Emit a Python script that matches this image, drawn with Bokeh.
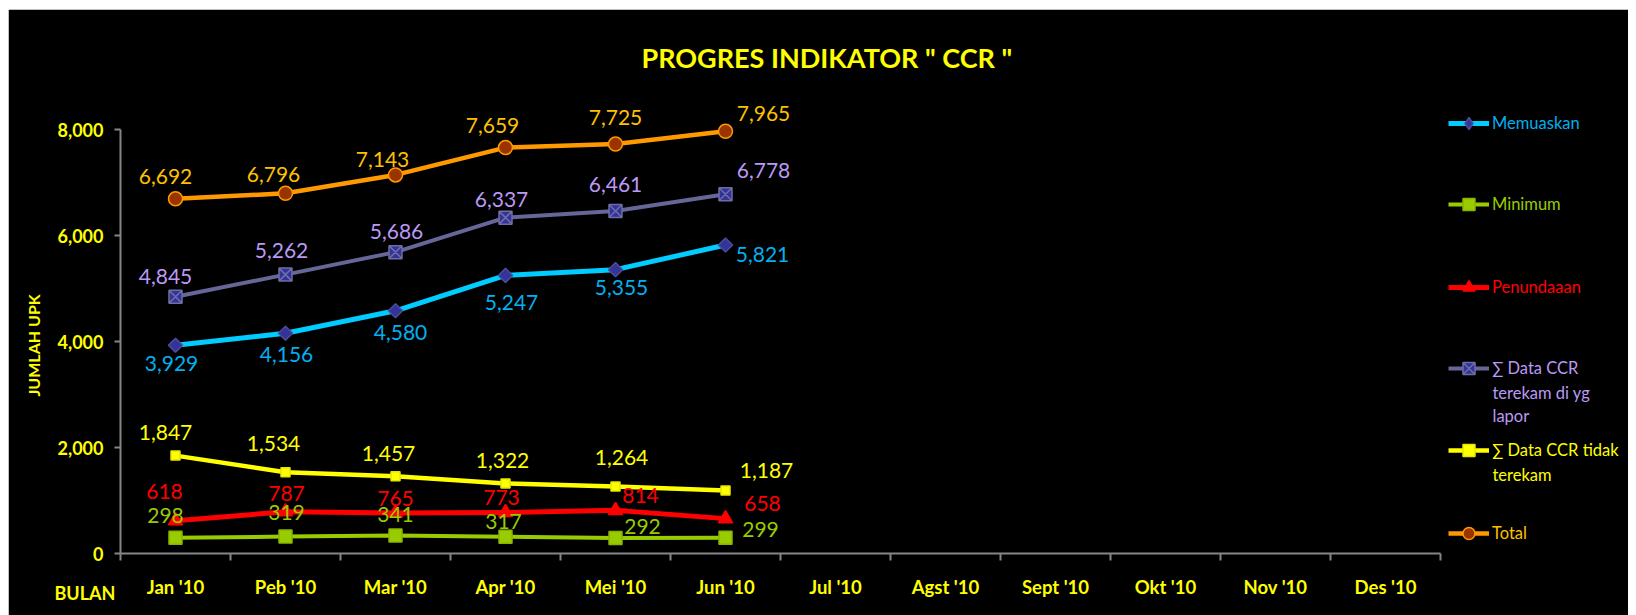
from bokeh.plotting import figure
from bokeh.models import (Range1d, FixedTicker, NumeralTickFormatter, LabelSet, Label,
                          Legend, LegendItem, ColumnDataSource, Title)
from bokeh.core.properties import value
from bokeh.embed import file_html
from bokeh.resources import INLINE

# ---------------- data ----------------
months = ["Jan '10", "Peb '10", "Mar '10", "Apr '10", "Mei '10", "Jun '10",
          "Jul '10", "Agst '10", "Sept '10", "Okt '10", "Nov '10", "Des '10"]
data_months = months[:6]
memuaskan = [3929, 4156, 4580, 5247, 5355, 5821]
minimum = [298, 319, 341, 317, 292, 299]
penundaaan = [618, 787, 765, 773, 814, 658]
terekam = [4845, 5262, 5686, 6337, 6461, 6778]
tidak_terekam = [1847, 1534, 1457, 1322, 1264, 1187]
total = [6692, 6796, 7143, 7659, 7725, 7965]
y_ticks = [0, 2000, 4000, 6000, 8000]

title_text = 'PROGRES INDIKATOR " CCR "'
y_title = "JUMLAH UPK"
x_title = "BULAN"

# ---------------- label offsets (screen px, +down) ----------------
off_memuaskan = [(-4, 18), (1, 21), (5, 22), (6, 27), (6, 18), (37, 10)]
off_minimum = [(-10, -22), (1, -24), (0, -21), (-2, -15), (27, -12), (35, -8)]
off_penundaaan = [(-11, -29), (1, -18), (0, -14), (-4, -15), (25, -15), (37, -15)]
off_terekam = [(-10, -20), (-4, -24), (1, -21), (-4, -18), (0, -27), (38, -24)]
off_tidak = [(-10, -23), (-12, -29), (-7, -23), (-3, -23), (6, -29), (41, -20)]
off_total = [(-10, -22), (-12, -19), (-13, -15), (-13, -22), (0, -27), (38, -18)]

FONT = "Lato"
AXIS_GRAY = "#868686"

n_cat = len(months)
PX_PER_X = 110.0
FRAME_W = 1508
FRAME_H = 452
PX_PER_Y = 424.0 / 8000.0
x_end = FRAME_W / PX_PER_X
y_end = FRAME_H / PX_PER_Y

p = figure(width=1620, height=606, output_backend="svg", toolbar_location=None,
           x_range=Range1d(0, x_end), y_range=Range1d(0, y_end),
           min_border_left=112, min_border_right=0, min_border_top=92, min_border_bottom=62,
           background_fill_color="black", border_fill_color="black")
p.margin = (9, 8, 0, 8)
p.outline_line_color = "black"
p.outline_line_width = 3
p.xgrid.visible = False
p.ygrid.visible = False

# title
p.title.text = title_text
p.title.align = "left"
p.title.offset = 521
p.title.standoff = 56
p.title.text_font = FONT
p.title.text_font_style = "bold"
p.title.text_font_size = "27px"
p.title.text_color = "#FFFF00"

# x axis
centers = [i + 0.5 for i in range(n_cat)]
bounds = [float(i) for i in range(n_cat + 1)]
xa = p.xaxis[0]
xa.ticker = FixedTicker(ticks=centers, minor_ticks=bounds)
xa.major_label_overrides = {c: m for c, m in zip(centers, months)}
xa.bounds = (0, n_cat)
xa.axis_label = None
xa.axis_label_standoff = 0
xa.axis_line_color = AXIS_GRAY
xa.axis_line_width = 2
xa.major_tick_in = 0
xa.major_tick_out = 0
xa.minor_tick_in = 0
xa.minor_tick_out = 7
xa.minor_tick_line_color = AXIS_GRAY
xa.minor_tick_line_width = 2
xa.major_label_standoff = 15
xa.major_label_text_font = FONT
xa.major_label_text_font_style = "bold"
xa.major_label_text_font_size = "18.5px"
xa.major_label_text_color = "#FFFF00"

# x axis title at the left, tucked beside the month labels
p.add_layout(Title(text=x_title + "\n", align="left", offset=-66, standoff=-37, vertical_align="top",
                   text_font=FONT, text_font_style="bold", text_font_size="18px",
                   text_color="#FFFF00"), "below")

# y axis
ya = p.yaxis[0]
ya.ticker = FixedTicker(ticks=y_ticks, minor_ticks=[])
ya.formatter = NumeralTickFormatter(format="0,0")
ya.bounds = (0, y_ticks[-1])
ya.axis_label = None
ya.axis_label_standoff = 0
ya.axis_line_color = AXIS_GRAY
ya.axis_line_width = 2
ya.major_tick_in = 0
ya.major_tick_out = 6
ya.major_tick_line_color = AXIS_GRAY
ya.major_tick_line_width = 2
ya.major_label_standoff = 11
ya.major_label_text_font = FONT
ya.major_label_text_font_style = "bold"
ya.major_label_text_font_size = "18px"
ya.major_label_text_color = "#FFFF00"

# y axis title (rotated) in the left panel
p.add_layout(Title(text=y_title, align="left", offset=157, standoff=22, vertical_align="middle",
                   text_font=FONT, text_font_style="bold", text_font_size="16px",
                   text_color="#FFFF00"), "left")

xs = [months.index(m) + 0.5 for m in data_months]

series = [
    # name lines, values, line color, line width, marker, size, fill, outline, angle, label color, offsets, legend marker
    (["Memuaskan"], memuaskan, "#00CCFF", 5, "square", 10, "#333399", "#4D4D99", 0.785398, "#00B0F0", off_memuaskan, "diamond"),
    (["Minimum"], minimum, "#99CC00", 4, "square", 13, "#99CC00", "#88B400", 0, "#99CC00", off_minimum, None),
    (["Penundaaan"], penundaaan, "#FF0000", 5, "triangle", 14, "#FF0000", "#FF0000", 0, "#FF0000", off_penundaaan, None),
    (["\u2211 Data CCR", "terekam di yg", "lapor"], terekam, "#666699", 4, "square_x", 13, "#333399", "#6E6EA5", 0, "#BB99F5", off_terekam, None),
    (["\u2211 Data CCR tidak", "terekam"], tidak_terekam, "#FFFF00", 4.5, "square", 9, "#FFFF00", "#E6E600", 0, "#FFFF00", off_tidak, None),
    (["Total"], total, "#FF9900", 4.5, "circle", 14, "#993300", "#FF9900", 0, "#FFC000", off_total, None),
]

# legend glyph centres (page px) for each entry
legend_glyph_y = [122.5, 204, 287, 368, 449.5, 533]
FRAME_LEFT_PAGE = 120
FRAME_BOTTOM_PAGE = 553
LEG_GLYPH_X = 1448
LEG_TEXT_X = 1492
LINE_STEP = 22.5

label_sets = []
legends = []
extra_labels = []
for k, (names, vals, lc, lw, mk, ms, fc, oc, ang, tc, offs, leg_mk) in enumerate(series):
    r_line = p.line(xs, vals, line_color=lc, line_width=lw, line_join="round")
    r_mark = p.scatter(xs, vals, marker=mk, size=ms, fill_color=fc, line_color=oc,
                       line_width=1.5, angle=ang)
    leg_renderers = [r_line, r_mark]
    if leg_mk is not None:
        r_leg = p.scatter(xs, vals, marker=leg_mk, size=ms, fill_color=fc, line_color=oc,
                          line_width=1.5, visible=False)
        leg_renderers = [r_line, r_leg]
    src = ColumnDataSource(dict(
        x=xs, y=vals, t=["{:,}".format(v) for v in vals],
        dx=[o[0] for o in offs], dy=[-o[1] for o in offs]))
    label_sets.append(LabelSet(x="x", y="y", text="t", source=src, x_offset="dx", y_offset="dy",
                               text_align="center", text_baseline="middle",
                               text_font=value(FONT), text_font_size=value("21px"),
                               text_color=tc))
    gy = legend_glyph_y[k]
    leg = Legend(items=[LegendItem(label=names[0], renderers=leg_renderers)],
                 location=(LEG_GLYPH_X - FRAME_LEFT_PAGE, (FRAME_BOTTOM_PAGE - gy) - 15),
                 padding=0, margin=0, spacing=0, glyph_width=41, glyph_height=30,
                 label_height=20, label_standoff=3,
                 label_text_font=FONT, label_text_font_size="16.5px", label_text_color=tc,
                 border_line_color=None, background_fill_alpha=0)
    legends.append(leg)
    for j, extra in enumerate(names[1:], start=1):
        ypg = gy + 2 + j * LINE_STEP
        extra_labels.append(Label(x=(LEG_TEXT_X - FRAME_LEFT_PAGE) / PX_PER_X,
                                  y=(FRAME_BOTTOM_PAGE - ypg) / PX_PER_Y,
                                  text=extra, text_align="left", text_baseline="middle",
                                  text_font=FONT, text_font_size="16.5px", text_color=tc))

for ls in label_sets:
    p.add_layout(ls)
for lg in legends:
    p.add_layout(lg)
for lb in extra_labels:
    p.add_layout(lb)

open("out.html", "w").write(file_html(p, INLINE))
